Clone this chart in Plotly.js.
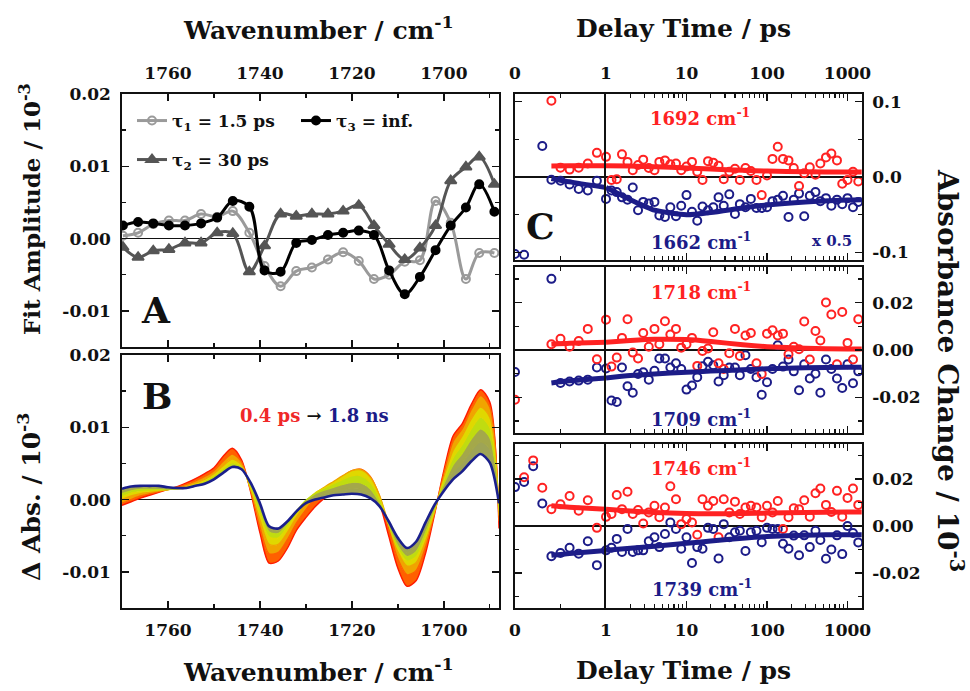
<!DOCTYPE html>
<html>
<head>
<meta charset="utf-8">
<script src="https://cdn.plot.ly/plotly-3.0.1.min.js"></script>
<style>
  html, body { margin: 0; padding: 0; background: #ffffff; }
  #chart { width: 970px; height: 691px; }
</style>
</head>
<body>
<div id="chart"></div>
<script>
// ---------- Panel A: global-fit amplitude spectra ----------
const A_WAVENUMBER = [1769.8, 1766.5, 1763.2, 1759.8, 1756.3, 1752.8, 1749.3, 1745.9, 1742.3, 1739.0,
  1735.5, 1732.1, 1728.7, 1725.2, 1721.9, 1718.5, 1715.2, 1711.9, 1708.5, 1705.2,
  1701.8, 1698.5, 1695.2, 1692.3, 1689.0];
const A_TAU1 = [0.0004, 0.0008, 0.0020, 0.0025, 0.0025, 0.0034, 0.0030, 0.0038, 0.0008, -0.0038,
  -0.0066, -0.0045, -0.0040, -0.0029, -0.0019, -0.0031, -0.0056, -0.0050, -0.0032, -0.0030,
  0.0052, 0.0022, -0.0056, -0.0020, -0.0020];
const A_TAU2 = [-0.0012, -0.0026, -0.0017, -0.0015, -0.0006, -0.0006, 0.0008, 0.0007, -0.0046, -0.0010,
  0.0034, 0.0031, 0.0034, 0.0034, 0.0038, 0.0046, 0.0018, -0.0008, -0.0029, -0.0013,
  0.0018, 0.0080, 0.0099, 0.0113, 0.0075];
const A_TAU3 = [0.0018, 0.0023, 0.0021, 0.0018, 0.0018, 0.0021, 0.0029, 0.0052, 0.0044, -0.0044,
  -0.0046, -0.0006, -0.0002, 0.0005, 0.0008, 0.0011, 0.0005, -0.0044, -0.0077, -0.0053,
  -0.0016, 0.0018, 0.0043, 0.0075, 0.0037];
const A_NAMES = ['τ<sub>1</sub> = 1.5 ps', 'τ<sub>2</sub> = 30 ps', 'τ<sub>3</sub> = inf.'];

// ---------- Panel B: transient spectra, 0.4 ps (red) to 1.8 ns (blue) ----------
const B_WAVENUMBER = [1770, 1768, 1766, 1764, 1762, 1760, 1758, 1756, 1754, 1752, 1750, 1748, 1746, 1744,
  1742, 1740, 1738, 1736, 1734, 1732, 1730, 1728, 1726, 1724, 1722, 1720, 1718, 1716,
  1714, 1712, 1710, 1708, 1706, 1704, 1702, 1700, 1698, 1696, 1694, 1692, 1690, 1688];
const B_04PS = [-0.0008, -0.0003, 0.0002, 0.0006, 0.0010, 0.0014, 0.0018, 0.0023, 0.0029, 0.0036, 0.0044, 0.0060, 0.0071, 0.0055,
  0.0010, -0.0046, -0.0088, -0.0085, -0.0067, -0.0042, -0.0025, -0.0010, 0.0002, 0.0012, 0.0022, 0.0030, 0.0032, 0.0022,
  -0.0005, -0.0050, -0.0095, -0.0120, -0.0112, -0.0075, -0.0020, 0.0040, 0.0088, 0.0105, 0.0132, 0.0152, 0.0135, -0.0040];
const B_ORANGE = [-0.0005, 0.0000, 0.0005, 0.0008, 0.0011, 0.0014, 0.0017, 0.0021, 0.0026, 0.0032, 0.0040, 0.0053, 0.0063, 0.0052,
  0.0012, -0.0038, -0.0075, -0.0073, -0.0055, -0.0032, -0.0014, 0.0001, 0.0012, 0.0022, 0.0032, 0.0040, 0.0042, 0.0032,
  0.0005, -0.0040, -0.0082, -0.0104, -0.0098, -0.0066, -0.0018, 0.0036, 0.0080, 0.0098, 0.0125, 0.0144, 0.0128, -0.0030];
const B_AMBER = [0.0000, 0.0005, 0.0008, 0.0010, 0.0012, 0.0014, 0.0016, 0.0019, 0.0023, 0.0028, 0.0036, 0.0047, 0.0056, 0.0048,
  0.0014, -0.0028, -0.0062, -0.0062, -0.0045, -0.0024, -0.0006, 0.0008, 0.0017, 0.0025, 0.0033, 0.0040, 0.0041, 0.0031,
  0.0006, -0.0034, -0.0072, -0.0092, -0.0087, -0.0058, -0.0016, 0.0030, 0.0068, 0.0088, 0.0112, 0.0128, 0.0114, -0.0022];
const B_YELLOW = [0.0004, 0.0009, 0.0011, 0.0012, 0.0013, 0.0014, 0.0015, 0.0017, 0.0021, 0.0026, 0.0033, 0.0043, 0.0051, 0.0045,
  0.0016, -0.0020, -0.0052, -0.0053, -0.0038, -0.0019, -0.0003, 0.0009, 0.0016, 0.0022, 0.0028, 0.0033, 0.0033, 0.0024,
  0.0002, -0.0034, -0.0068, -0.0085, -0.0079, -0.0052, -0.0014, 0.0026, 0.0058, 0.0076, 0.0098, 0.0114, 0.0100, -0.0015];
const B_LIME = [0.0008, 0.0012, 0.0014, 0.0014, 0.0014, 0.0014, 0.0015, 0.0016, 0.0019, 0.0024, 0.0031, 0.0040, 0.0048, 0.0044,
  0.0019, -0.0014, -0.0045, -0.0047, -0.0034, -0.0016, -0.0001, 0.0008, 0.0013, 0.0017, 0.0021, 0.0024, 0.0023, 0.0015,
  -0.0004, -0.0034, -0.0064, -0.0079, -0.0072, -0.0046, -0.0012, 0.0021, 0.0048, 0.0064, 0.0084, 0.0098, 0.0086, -0.0010];
const B_OLIVE = [0.0012, 0.0015, 0.0017, 0.0017, 0.0016, 0.0015, 0.0015, 0.0016, 0.0019, 0.0023, 0.0029, 0.0038, 0.0046, 0.0043,
  0.0021, -0.0009, -0.0040, -0.0043, -0.0031, -0.0015, -0.0003, 0.0004, 0.0008, 0.0011, 0.0014, 0.0015, 0.0014, 0.0008,
  -0.0007, -0.0032, -0.0059, -0.0073, -0.0065, -0.0040, -0.0010, 0.0016, 0.0038, 0.0051, 0.0068, 0.0080, 0.0070, -0.0006];
const B_18NS = [0.0015, 0.0018, 0.0019, 0.0019, 0.0019, 0.0017, 0.0016, 0.0016, 0.0019, 0.0022, 0.0028, 0.0037, 0.0045, 0.0042,
  0.0023, -0.0005, -0.0037, -0.0040, -0.0030, -0.0016, -0.0005, 0.0000, 0.0003, 0.0006, 0.0007, 0.0008, 0.0007, 0.0002,
  -0.0009, -0.0030, -0.0053, -0.0067, -0.0058, -0.0032, -0.0007, 0.0012, 0.0028, 0.0039, 0.0053, 0.0063, 0.0051, -0.0005];

// ---------- Panel C: kinetic traces ----------
const DELAY = [0, 0.1, 0.2, 0.3, 0.4, 0.5, 0.6, 0.7, 0.8, 0.9, 1.0,
  1.17, 1.36, 1.58, 1.85, 2.15, 2.5, 2.9, 3.4, 4.0, 4.6,
  5.4, 6.3, 7.4, 8.6, 10, 11.7, 13.6, 15.8, 18.5, 21.5,
  25, 29, 34, 40, 46, 54, 63, 74, 86, 100,
  117, 136, 158, 185, 215, 250, 290, 340, 400, 460,
  540, 630, 740, 860, 1000, 1170, 1360];
const C1_RED_1692 = [null, null, null, null, 0.101, 0.0124, 0.0098, 0.0124, 0.0178, 0.032, 0.0267,
  -0.004, -0.003, 0.030, 0.020, 0.009, 0.016, 0.023, 0.012, 0.009, 0.020,
  0.022, 0.017, 0.018, 0.009, 0.014, 0.020, 0.007, -0.004, 0.021, 0.019,
  0.015, -0.003, 0.007, 0.011, -0.004, 0.012, 0.008, -0.004, -0.024, 0.002,
  0.024, 0.040, 0.024, 0.022, 0.012, -0.012, 0.005, 0.013, 0.003, 0.018,
  0.026, 0.031, 0.022, -0.009, -0.004, 0.007, -0.006];
const C1_BLUE_1662 = [-0.102, -0.103, null, 0.041, -0.0036, -0.005, -0.010, -0.016, -0.018, -0.005, -0.029,
  -0.018, -0.020, -0.027, -0.030, -0.014, -0.044, -0.033, -0.035, -0.033, -0.051,
  -0.053, -0.040, -0.052, -0.038, -0.024, -0.046, -0.058, -0.039, -0.044, -0.040,
  -0.027, -0.038, -0.023, -0.049, -0.036, -0.040, -0.029, -0.041, -0.041, -0.040,
  -0.032, -0.030, -0.025, -0.053, -0.030, -0.022, -0.052, -0.025, -0.020, -0.032,
  -0.028, -0.038, -0.030, -0.036, -0.028, -0.040, -0.033];
const C2_RED_1718 = [-0.021, null, null, null, 0.0024, 0.0047, 0.0014, 0.0038, 0.0089, -0.0039, 0.0128,
  -0.0070, -0.0032, 0.0051, 0.0130, -0.0011, -0.0036, 0.0072, 0.0014, 0.0089, 0.0024,
  0.0121, 0.0065, 0.0089, 0.0010, 0.0024, 0.0051, -0.0067, -0.0004, 0.0006, 0.0075,
  -0.0056, -0.0080, -0.0014, 0.0089, -0.0025, 0.0061, 0.0072, -0.0056, -0.0101, 0.0069,
  0.0083, 0.0061, 0.0069, -0.0018, 0.0014, 0.0003, 0.0120, -0.0040, 0.0080, 0.0040,
  0.0200, 0.0150, -0.0060, 0.0160, 0.0030, -0.0040, 0.0130];
const C2_BLUE_1709 = [-0.0093, null, null, null, 0.030, -0.0139, -0.0133, -0.0129, -0.0125, -0.0074, -0.0078,
  -0.0213, -0.0219, -0.0074, -0.0153, -0.0180, -0.0101, -0.0094, -0.0125, -0.0088, -0.0036,
  -0.0036, -0.0074, -0.0056, -0.0080, -0.0167, -0.0150, -0.0115, -0.0069, -0.0050, -0.0064,
  -0.0133, -0.0106, -0.0074, -0.0074, -0.0106, -0.0022, -0.0080, -0.0115, -0.0189, -0.0136,
  -0.0080, 0.0020, -0.0070, -0.0040, -0.0090, -0.0170, -0.0060, -0.0120, -0.0100, -0.0180,
  -0.0040, -0.0080, -0.0120, -0.0160, -0.0060, -0.0140, -0.0090];
const C3_RED_1746 = [null, 0.0208, 0.0280, 0.0163, 0.0072, 0.0093, 0.0128, 0.0065, 0.0110, -0.0008, 0.0039,
  0.0051, 0.0132, 0.0072, 0.0146, 0.0051, 0.0068, 0.0011, 0.0058, 0.0086, 0.0037,
  0.0079, 0.0170, 0.0114, 0.0008, 0.0030, 0.0015, -0.0037, 0.0114, 0.0086, 0.0107,
  -0.0048, 0.0114, 0.0058, 0.0104, 0.0051, 0.0079, 0.0086, 0.0079, 0.0037, 0.0086,
  0.0058, 0.0107, -0.0013, 0.0037, 0.0076, 0.0072, 0.0110, 0.0040, 0.0140, 0.0160,
  0.0090, 0.0060, 0.0150, 0.0040, 0.0120, 0.0160, 0.0090];
const C3_BLUE_1739 = [0.0166, 0.0188, 0.0255, 0.0096, -0.0129, -0.0115, -0.0093, -0.0118, -0.0065, -0.0167, -0.0104,
  -0.0093, -0.0055, -0.0111, -0.0013, -0.0111, -0.0104, -0.0104, -0.0065, -0.0048, -0.0090,
  -0.0034, 0.0015, -0.0013, -0.0097, -0.0048, -0.0158, -0.0090, -0.0097, -0.0008, -0.0013,
  -0.0139, 0.0008, -0.0048, -0.0027, -0.0020, -0.0107, -0.0027, -0.0020, -0.0069, -0.0008,
  -0.0013, -0.0013, -0.0076, -0.0097, -0.0041, -0.0125, -0.0040, -0.0090, -0.0020, -0.0060,
  -0.0140, -0.0100, -0.0040, -0.0120, 0.0000, -0.0030, -0.0070];

// Fitted kinetics
const FIT_DELAY = [0.4, 0.6, 1, 2, 4, 10, 20, 50, 100, 300, 1000, 1500];
const FIT1_RED = [0.0147, 0.0148, 0.0150, 0.0145, 0.0135, 0.0120, 0.0105, 0.0088, 0.0078, 0.0070, 0.0066, 0.0066];
const FIT1_BLUE = [-0.0020, -0.0065, -0.0140, -0.0300, -0.0440, -0.0500, -0.0470, -0.0410, -0.0370, -0.0330, -0.0305, -0.0300];
const FIT2_RED = [0.0024, 0.0028, 0.0033, 0.0040, 0.0045, 0.0044, 0.0036, 0.0022, 0.0014, 0.0007, 0.0004, 0.0004];
const FIT2_BLUE = [-0.0139, -0.0130, -0.0118, -0.0108, -0.0101, -0.0094, -0.0089, -0.0083, -0.0079, -0.0075, -0.0073, -0.0073];
const FIT3_RED = [0.0086, 0.0080, 0.0072, 0.0064, 0.0058, 0.0053, 0.0052, 0.0053, 0.0055, 0.0058, 0.0060, 0.0060];
const FIT3_BLUE = [-0.0125, -0.0117, -0.0104, -0.0095, -0.0086, -0.0074, -0.0064, -0.0052, -0.0045, -0.0039, -0.0037, -0.0037];

// Tick values and labels
const WN_TICKS = [1760, 1740, 1720, 1700];
const WN_LABELS = ['1760', '1740', '1720', '1700'];
const WN_MINOR = [1750, 1730, 1710, 1690];
const AB_YTICKS = [-0.01, 0, 0.01, 0.02];
const AB_YLABELS = ['-0.01', '0.00', '0.01', '0.02'];
const AB_YMINOR = [-0.005, 0.005, 0.015];
const C_LIN_TICKS = [0];
const C_LIN_LABELS = ['0'];
const C_LIN_MINOR = [0.5];
const C_LOG_TICKS = [1, 10, 100, 1000];
const C_LOG_LABELS = ['1', '10', '100', '1000'];
const C_LOG_MINOR = [2, 3, 4, 5, 6, 7, 8, 9, 20, 30, 40, 50, 60, 70, 80, 90, 200, 300, 400, 500, 600, 700, 800, 900];
const C1_YTICKS = [-0.1, 0, 0.1];
const C1_YLABELS = ['-0.1', '0.0', '0.1'];
const C1_YMINOR = [-0.05, 0.05];
const C23_YTICKS = [-0.02, 0, 0.02];
const C23_YLABELS = ['-0.02', '0.00', '0.02'];
const C23_YMINOR = [-0.03, -0.01, 0.01, 0.03];

// ---------- styling helpers ----------
const FONT = '"DejaVu Serif", serif';
const INK = '#111111';
const RED = '#ff2222';
const NAVY = '#1c1c88';
const W = 970, H = 691;
const fx = p => p / W;          // pixel column -> paper x
const fy = p => 1 - p / H;      // pixel row -> paper y
const font = (size, color) => ({ family: FONT, size: size, color: color || INK, weight: 'bold' });

function minorTicks(vals) {
  return { tickmode: 'array', tickvals: vals, ticks: 'inside', ticklen: 4, tickwidth: 1.3, tickcolor: INK, showgrid: false };
}
function frameAxis(extra) {
  return Object.assign({
    showline: true, linecolor: INK, linewidth: 1.8, mirror: 'ticks',
    ticks: 'inside', ticklen: 7, tickwidth: 1.5, tickcolor: INK,
    showgrid: false, zeroline: false, fixedrange: true, automargin: false,
    tickmode: 'array', tickfont: font(17)
  }, extra);
}

const traces = [];

// Panel A traces
const aSeries = [
  { y: A_TAU1, name: A_NAMES[0], color: '#9a9a9a', symbol: 'circle-open', size: 8, legend: 'legend' },
  { y: A_TAU2, name: A_NAMES[1], color: '#555555', symbol: 'triangle-up', size: 10, legend: 'legend3' },
  { y: A_TAU3, name: A_NAMES[2], color: '#000000', symbol: 'circle', size: 8, legend: 'legend2' }
];
aSeries.forEach(s => traces.push({
  type: 'scatter', mode: 'lines+markers', x: A_WAVENUMBER, y: s.y, name: s.name,
  xaxis: 'x', yaxis: 'y', legend: s.legend, showlegend: true,
  line: { color: s.color, width: 3, shape: 'spline', smoothing: 1 },
  marker: { symbol: s.symbol, size: s.size, color: s.color, line: { color: s.color, width: 2 } }
}));

// Panel B traces: filled band from the earliest to the latest spectrum
const bSeries = [
  { y: B_04PS, color: '#ff1a00', fill: 'none' },
  { y: B_ORANGE, color: '#ff6000', fill: 'tonexty' },
  { y: B_AMBER, color: '#f0a400', fill: 'tonexty' },
  { y: B_YELLOW, color: '#e0d800', fill: 'tonexty' },
  { y: B_LIME, color: '#c0dc10', fill: 'tonexty' },
  { y: B_OLIVE, color: '#a4a84a', fill: 'tonexty' },
  { y: B_18NS, color: '#1a1f8c', fill: 'tonexty', fillcolor: '#9ea456', width: 2.6 }
];
bSeries.forEach(s => traces.push({
  type: 'scatter', mode: 'lines', x: B_WAVENUMBER, y: s.y, xaxis: 'x2', yaxis: 'y2', showlegend: false,
  line: { color: s.color, width: s.width || 1.4, shape: 'spline', smoothing: 0.8 },
  fill: s.fill, fillcolor: s.fillcolor || s.color
}));

// Panel C: each row has a linear (0-1 ps) and a log (1 ps onwards) sub-axis
function pick(t, v, keep) {
  const x = [], y = [];
  t.forEach((ti, i) => { if (keep(ti)) { x.push(ti); y.push(v[i]); } });
  return { x, y };
}
const cRows = [
  { red: C1_RED_1692, blue: C1_BLUE_1662, fitRed: FIT1_RED, fitBlue: FIT1_BLUE },
  { red: C2_RED_1718, blue: C2_BLUE_1709, fitRed: FIT2_RED, fitBlue: FIT2_BLUE },
  { red: C3_RED_1746, blue: C3_BLUE_1739, fitRed: FIT3_RED, fitBlue: FIT3_BLUE }
];
cRows.forEach((row, r) => {
  const lin = { x: 'x' + (2 * r + 3), y: 'y' + (2 * r + 3) };
  const log = { x: 'x' + (2 * r + 4), y: 'y' + (2 * r + 4) };
  [[row.blue, NAVY], [row.red, RED]].forEach(([vals, color]) => {
    const a = pick(DELAY, vals, t => t < 1);
    const b = pick(DELAY, vals, t => t >= 1);
    const marker = { symbol: 'circle-open', size: 8, color: color, line: { color: color, width: 2 } };
    traces.push({ type: 'scatter', mode: 'markers', x: a.x, y: a.y, xaxis: lin.x, yaxis: lin.y, marker, showlegend: false });
    traces.push({ type: 'scatter', mode: 'markers', x: b.x, y: b.y, xaxis: log.x, yaxis: log.y, marker, showlegend: false, cliponaxis: false });
  });
  [[row.fitBlue, NAVY], [row.fitRed, RED]].forEach(([vals, color]) => {
    const a = pick(FIT_DELAY, vals, t => t <= 1);
    const b = pick(FIT_DELAY, vals, t => t >= 1);
    const line = { color: color, width: 5, shape: 'spline', smoothing: 0.6 };
    traces.push({ type: 'scatter', mode: 'lines', x: a.x, y: a.y, xaxis: lin.x, yaxis: lin.y, line, showlegend: false });
    traces.push({ type: 'scatter', mode: 'lines', x: b.x, y: b.y, xaxis: log.x, yaxis: log.y, line, showlegend: false });
  });
});

// ---------- layout ----------
const layout = {
  width: W, height: H,
  margin: { l: 0, r: 0, t: 0, b: 0 },
  paper_bgcolor: '#ffffff', plot_bgcolor: '#ffffff',
  font: { family: FONT, color: INK },
  showlegend: true,
  xaxis: frameAxis({ domain: [fx(122), fx(499)], range: [1770, 1688], anchor: 'y', side: 'top',
    tickvals: WN_TICKS, ticktext: WN_LABELS, minor: minorTicks(WN_MINOR), ticklabelstandoff: 6 }),
  yaxis: frameAxis({ domain: [fy(347), fy(94)], range: [-0.015, 0.02], anchor: 'x',
    tickvals: AB_YTICKS, ticktext: AB_YLABELS, minor: minorTicks(AB_YMINOR), ticklabelstandoff: 6,
    zeroline: true, zerolinecolor: INK, zerolinewidth: 1.6 }),
  xaxis2: frameAxis({ domain: [fx(122), fx(499)], range: [1770, 1688], anchor: 'y2', side: 'bottom',
    tickvals: WN_TICKS, ticktext: WN_LABELS, minor: minorTicks(WN_MINOR), ticklabelstandoff: 6 }),
  yaxis2: frameAxis({ domain: [fy(608), fy(355)], range: [-0.015, 0.02], anchor: 'x2',
    tickvals: AB_YTICKS, ticktext: AB_YLABELS, minor: minorTicks(AB_YMINOR), ticklabelstandoff: 6,
    zeroline: true, zerolinecolor: INK, zerolinewidth: 1.6 }),
  legend: { x: fx(132), y: fy(103), xanchor: 'left', yanchor: 'top', bgcolor: 'rgba(0,0,0,0)', borderwidth: 0, font: font(17) },
  legend2: { x: fx(296), y: fy(103), xanchor: 'left', yanchor: 'top', bgcolor: 'rgba(0,0,0,0)', borderwidth: 0, font: font(17) },
  legend3: { x: fx(132), y: fy(142), xanchor: 'left', yanchor: 'top', bgcolor: 'rgba(0,0,0,0)', borderwidth: 0, font: font(17) }
};

const cRowBoxes = [[94, 260], [267, 433], [444, 608]];
const cYRange = [[-0.11, 0.11], [-0.035, 0.035], [-0.035, 0.035]];
cRowBoxes.forEach((box, r) => {
  const n1 = 2 * r + 3, n2 = 2 * r + 4;
  const side = r === 0 ? 'top' : 'bottom';
  const showX = r !== 1;
  const yt = r === 0 ? C1_YTICKS : C23_YTICKS;
  const yl = r === 0 ? C1_YLABELS : C23_YLABELS;
  const ym = r === 0 ? C1_YMINOR : C23_YMINOR;
  const yDomain = [fy(box[1]), fy(box[0])];
  layout['xaxis' + n1] = frameAxis({ domain: [fx(515), fx(606)], range: [0, 1], anchor: 'y' + n1, side,
    tickvals: C_LIN_TICKS, ticktext: C_LIN_LABELS, minor: minorTicks(C_LIN_MINOR),
    showticklabels: showX, ticklabelstandoff: 6 });
  layout['xaxis' + n2] = frameAxis({ domain: [fx(606), fx(862)], type: 'log', range: [0, 3.18], anchor: 'y' + n2, side,
    tickvals: C_LOG_TICKS, ticktext: C_LOG_LABELS, minor: minorTicks(C_LOG_MINOR),
    showticklabels: showX, ticklabelstandoff: 6 });
  // left frame edge of the linear segment; the 1 ps divider comes from the log segment's mirrored line
  layout['yaxis' + n1] = frameAxis({ domain: yDomain, range: cYRange[r], anchor: 'x' + n1, side: 'left', mirror: false,
    tickvals: yt, ticktext: yl, minor: minorTicks(ym), showticklabels: false,
    zeroline: true, zerolinecolor: INK, zerolinewidth: 1.6 });
  layout['yaxis' + n2] = frameAxis({ domain: yDomain, range: cYRange[r], anchor: 'x' + n2, side: 'right', mirror: true,
    tickvals: yt, ticktext: yl, minor: minorTicks(ym), ticklabelstandoff: 5,
    zeroline: true, zerolinecolor: INK, zerolinewidth: 1.6 });
});

function label(text, x, y, size, color, angle) {
  return { text, x: fx(x), y: fy(y), xref: 'paper', yref: 'paper', showarrow: false,
    xanchor: 'center', yanchor: 'middle', font: font(size, color), textangle: angle || 0 };
}
layout.annotations = [
  label('Wavenumber / cm<sup>-1</sup>', 318, 28, 25),
  label('Wavenumber / cm<sup>-1</sup>', 318, 670, 25),
  label('Delay Time / ps', 683, 28, 25),
  label('Delay Time / ps', 683, 670, 25),
  label('Fit Amplitude / 10<sup>-3</sup>', 30, 209, 23, INK, -90),
  label('Δ Abs. / 10<sup>-3</sup>', 30, 497, 25, INK, -90),
  label('Absorbance Change / 10<sup>-3</sup>', 950, 370, 28, INK, 90),
  label('A', 156, 310, 36),
  label('B', 157, 396, 36),
  label('C', 540, 226, 36),
  label('<span style="color:#f02828">0.4 ps</span> → <span style="color:#1c1c88">1.8 ns</span>', 314, 415, 18),
  label('1692 cm<sup>-1</sup>', 700, 117, 18, RED),
  label('1662 cm<sup>-1</sup>', 701, 241, 18, NAVY),
  label('x 0.5', 832, 241, 15, NAVY),
  label('1718 cm<sup>-1</sup>', 701, 291, 18, RED),
  label('1709 cm<sup>-1</sup>', 701, 418, 18, NAVY),
  label('1746 cm<sup>-1</sup>', 701, 467, 18, RED),
  label('1739 cm<sup>-1</sup>', 702, 588, 18, NAVY)
];

Plotly.newPlot('chart', traces, layout, { staticPlot: true, displayModeBar: false });
</script>
</body>
</html>
